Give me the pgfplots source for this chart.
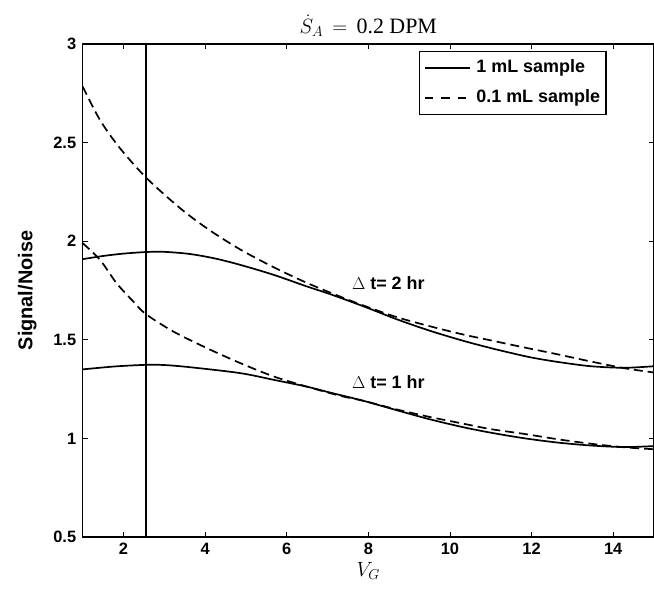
\documentclass[border=0pt]{standalone}
\usepackage{pgfplots}
\pgfplotsset{compat=1.18}
\usepackage{fontspec}
\setmainfont{Liberation Sans}
\newfontfamily\seriff{Liberation Serif}
\begin{document}
\begin{tikzpicture}[x=1bp,y=1bp]
\useasboundingbox (0,0) rectangle (654,594);
\begin{axis}[
  at={(82.7bp,57bp)}, anchor=south west,
  scale only axis, width=571.3bp, height=493bp,
  xmin=1, xmax=15, ymin=0.5, ymax=3,
  xtick={2,4,...,14}, ytick={0.5,1,...,3},
  yticklabels={0.5,1,1.5,2,2.5,3},
  tick align=inside, major tick length=5bp,
  axis line style={line width=1.5bp},
  every tick/.style={line width=0.9bp, black},
  /pgf/number format/assume math mode=true,
  tick label style={font=\bfseries\fontsize{16.5}{16.5}\selectfont},
  xticklabel style={yshift=-3bp},
  yticklabel style={xshift=-3bp},
  xlabel={\seriff\fontsize{21}{21}\selectfont $V_G$},
  xlabel style={yshift=0bp},
  ylabel={\bfseries\fontsize{20}{20}\selectfont Signal/Noise},
  ylabel style={yshift=10bp},
  title={\seriff\fontsize{22}{22}\selectfont $\dot{S}_A\,= {}$\,0.2 DPM},
  title style={yshift=-2bp},
  legend style={at={(axis cs:9.24,2.965)}, anchor=north west, draw=black, line width=1.5bp,
    font=\bfseries\fontsize{18}{18}\selectfont, row sep=9bp, inner xsep=4bp, inner ysep=6bp,
    nodes={text height=13bp, text depth=4bp},
    /tikz/every odd column/.append style={column sep=4bp}},
  legend cell align=left,
  clip=true,
]
\addplot[black, line width=1.7bp, smooth, tension=0.5,
  legend image code/.code={\draw[black, line width=1.7bp] (0bp,0bp) -- (45bp,0bp);}] coordinates {
(1,1.909)(1.5,1.925)(2,1.937)(2.55,1.945)(3,1.946)(3.63,1.935)(4.25,1.912)(4.86,1.88)(5.67,1.83)(6.5,1.77)(7.07,1.731)(7.89,1.669)(8.71,1.603)(9.52,1.545)(10.34,1.494)(11,1.458)(11.5,1.433)(12,1.41)(12.63,1.388)(13.45,1.366)(14.27,1.358)(15,1.366)};
\addlegendentry{1 mL sample}
\addplot[black, line width=1.7bp, dash pattern=on 9bp off 5bp, smooth, tension=0.5,
  legend image code/.code={\draw[black, line width=1.7bp, dash pattern=on 8.5bp off 8bp] (0bp,0bp) -- (45bp,0bp);}] coordinates {
(1,2.784)(1.425,2.614)(1.915,2.471)(2.57,2.319)(3.39,2.167)(4.08,2.06)(4.86,1.958)(5.67,1.869)(6.5,1.788)(7.31,1.719)(7.89,1.673)(8.71,1.614)(9.52,1.568)(10.34,1.526)(11,1.497)(11.8,1.462)(12.6,1.428)(13.45,1.39)(14.27,1.356)(15,1.334)};
\addlegendentry{0.1 mL sample}
\addplot[black, line width=1.7bp, smooth, tension=0.5, forget plot] coordinates {
(1,1.35)(1.8,1.365)(2.55,1.373)(3,1.372)(3.63,1.361)(4.86,1.331)(5.68,1.297)(6.5,1.262)(7.07,1.232)(7.89,1.19)(8.71,1.142)(9.52,1.096)(10.34,1.056)(11,1.029)(11.81,1.001)(12.63,0.979)(13.45,0.964)(14.27,0.956)(15,0.961)};
\addplot[black, line width=1.7bp, dash pattern=on 9bp off 5bp, smooth, tension=0.5, forget plot] coordinates {
(1,1.99)(1.425,1.905)(1.83,1.787)(2.24,1.694)(2.55,1.63)(3.22,1.542)(4.04,1.458)(4.86,1.382)(5.68,1.314)(6.5,1.262)(7.31,1.216)(7.89,1.19)(8.71,1.146)(9.52,1.108)(10.34,1.074)(11,1.047)(11.81,1.023)(12.63,0.996)(13.45,0.973)(14.27,0.955)(15,0.945)};
\addplot[black, line width=2.2bp, forget plot] coordinates {(2.55,0.5)(2.55,3)};
\node[font=\bfseries\fontsize{18}{18}\selectfont] at (axis cs:8.49,1.79) {$\Delta$ t= 2 hr};
\node[font=\bfseries\fontsize{18}{18}\selectfont] at (axis cs:8.49,1.288) {$\Delta$ t= 1 hr};
\end{axis}
\end{tikzpicture}
\end{document}
